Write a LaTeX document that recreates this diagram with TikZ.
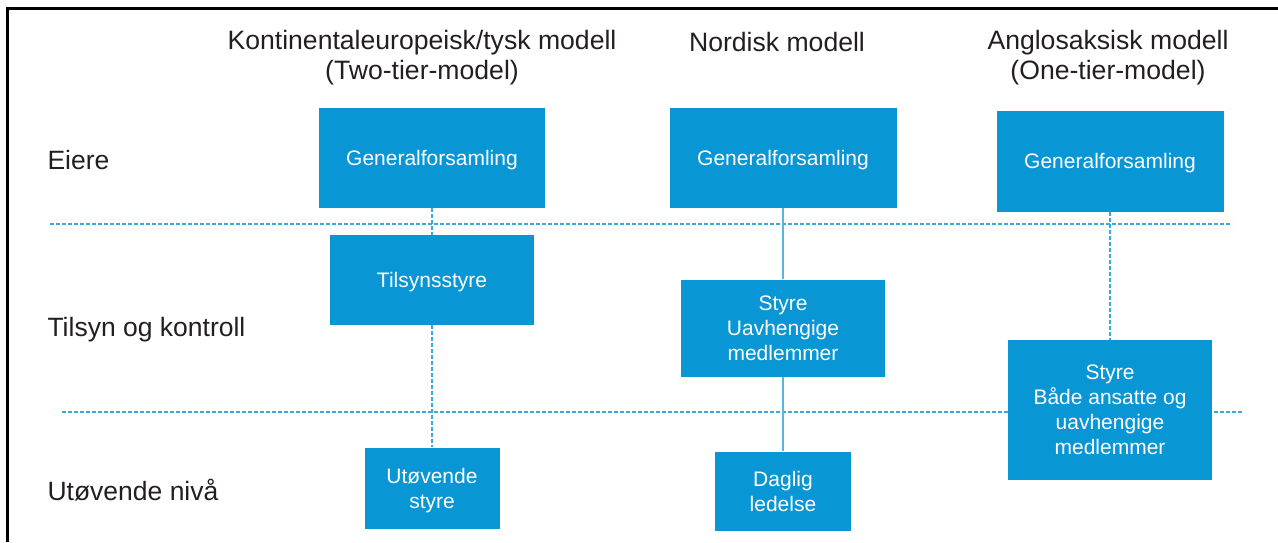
\documentclass[tikz,border=0pt]{standalone}
\usepackage{fontspec}
\setmainfont{Liberation Sans}
\definecolor{boxblue}{RGB}{9,150,212}
\definecolor{lineblue}{RGB}{58,170,222}
\definecolor{textgray}{RGB}{35,31,32}

\begin{document}
\begin{tikzpicture}
            [x=1pt, y=-1pt,
             box/.style={fill=boxblue, text=white, align=center, inner sep=0pt, text depth=0pt,
                         font=\fontsize{21}{25}\selectfont},
             head/.style={text=textgray, align=center, font=\fontsize{26.6}{30}\selectfont},
             level/.style={text=textgray, anchor=west, font=\fontsize{26.5}{30}\selectfont},
             sep/.style={lineblue, line width=1.2pt, dash pattern=on 4pt off 2pt},
             link/.style={lineblue, line width=1.2pt, dash pattern=on 4pt off 2pt},
             solidlink/.style={lineblue!85, line width=1.8pt}]
            \useasboundingbox (0,0) rectangle (1278,542);
            \draw[line width=3pt] (7,542) -- (7,8) -- (1278,8);

            % headings and levels
            \node[head] (h1) at (422,58) {Kontinentaleuropeisk/tysk modell\\(Two-tier-model)};
            \node[head] (h2) at (777,42) {Nordisk modell};
            \node[head] (h3) at (1108,58) {Anglosaksisk modell\\(One-tier-model)};

            \node[level] (eiere) at (44,160) {Eiere};
            \node[level] (tilsynlvl) at (44,330) {Tilsyn og kontroll};
            \node[level] (utovlvl) at (44,490) {Utøvende nivå};

            % separators
            \coordinate (s1a) at (50,224);
            \coordinate (s1b) at (1232,224);
            \coordinate (s2a) at (62,412);
            \coordinate (s2b) at (1243,412);
            \draw[sep] (s1a) -- (s1b);
            \draw[sep] (s2a) -- (s2b);

            % boxes
            \node[box, minimum width=226, minimum height=100] (gf1) at (432,158) {Generalforsamling};
            \node[box, minimum width=204, minimum height=90] (tilsyn) at (432,280) {Tilsynsstyre};
            \node[box, minimum width=135, minimum height=81] (utov) at (432,488) {Utøvende\\styre};

            \node[box, minimum width=227, minimum height=100] (gf2) at (783,158) {Generalforsamling};
            \node[box, minimum width=204, minimum height=97] (styre2) at (783,328) {Styre\\Uavhengige\\medlemmer};
            \node[box, minimum width=136, minimum height=79] (daglig) at (783,491) {Daglig\\ledelse};

            \node[box, minimum width=227, minimum height=101] (gf3) at (1110,161) {Generalforsamling};
            \node[box, minimum width=204, minimum height=140] (styre3) at (1110,410) {Styre\\Både ansatte og\\uavhengige\\medlemmer};

            % connectors
            \path [link] (gf1) edge (tilsyn);
            \path [link] (tilsyn) edge (utov);
            \path [solidlink] (gf2) edge (styre2);
            \path [solidlink] (styre2) edge (daglig);
            \path [link] (gf3) edge (styre3);
        \end{tikzpicture}
\end{document}
